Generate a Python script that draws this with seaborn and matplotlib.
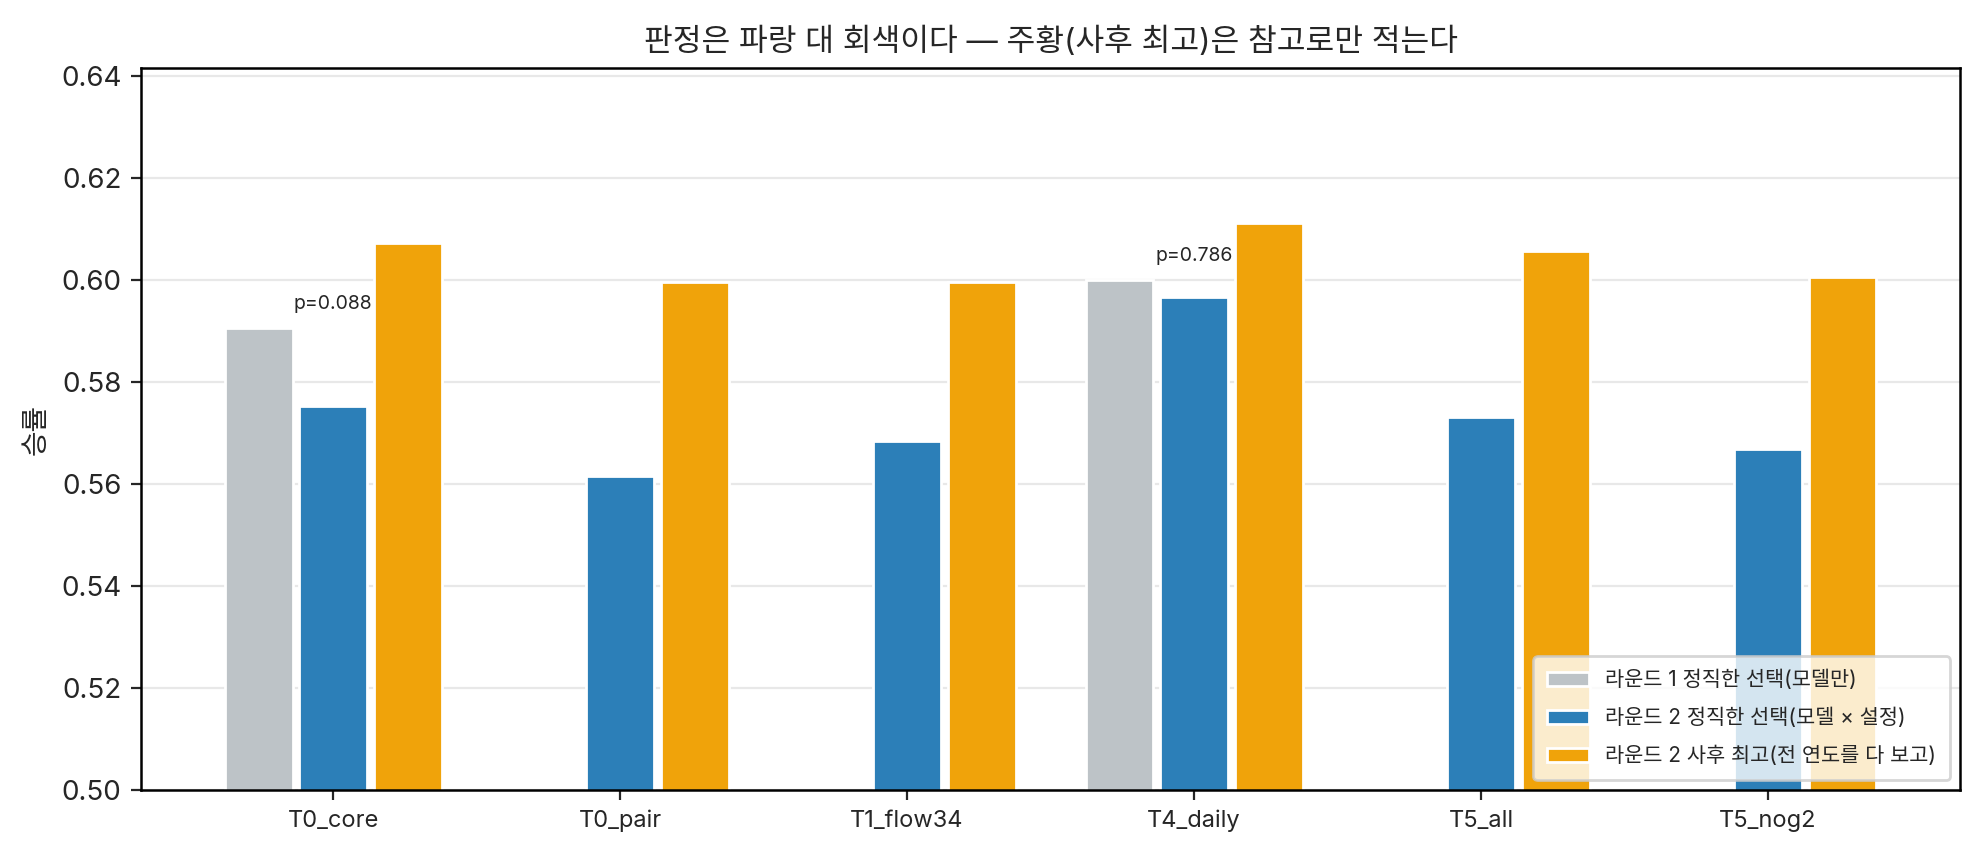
import matplotlib
matplotlib.use("Agg")
import matplotlib.pyplot as plt
import numpy as np
import pandas as pd
import seaborn as sns

# values
categories = ['T0_core', 'T0_pair', 'T1_flow34', 'T4_daily', 'T5_all', 'T5_nog2']
r1_honest = [0.5905, np.nan, np.nan, 0.5999, np.nan, np.nan]
r2_honest = [0.5752, 0.5616, 0.5685, 0.5966, 0.5731, 0.5669]
r2_best = [0.6073, 0.5996, 0.5996, 0.6112, 0.6057, 0.6005]
p_values = {'T0_core': 0.088, 'T4_daily': 0.786}

series_names = ['라운드 1 정직한 선택(모델만)',
                '라운드 2 정직한 선택(모델 × 설정)',
                '라운드 2 사후 최고(전 연도를 다 보고)']
colors = ['#bdc3c7', '#2c7fb8', '#f0a30a']

sns.set_style('white')
plt.rcParams['font.family'] = ['Inter', 'Noto Sans CJK KR', 'DejaVu Sans']

df = pd.DataFrame({'cat': categories * 3,
                   'series': np.repeat(series_names, len(categories)),
                   'val': r1_honest + r2_honest + r2_best})

fig, ax = plt.subplots(figsize=(9.9, 4.3), dpi=200)
sns.barplot(data=df, x='cat', y='val', hue='series', hue_order=series_names,
            palette=colors, saturation=1, width=0.78, gap=0.09, ax=ax)

# p-value labels above the round-2 honest bar
for i, c in enumerate(categories):
    if c in p_values:
        top = np.nanmax([r1_honest[i], r2_honest[i]])
        ax.text(i, top + 0.003, f'p={p_values[c]:.3f}', ha='center', va='bottom', fontsize=7)

ax.set_xlim(-0.67, len(categories) - 1 + 0.67)
ax.set_ylim(0.5, 0.6415)
ax.set_yticks(np.arange(0.50, 0.641, 0.02))
ax.yaxis.grid(True, color='#e8e8e8', linewidth=0.8)
ax.set_axisbelow(True)
for s in ax.spines.values():
    s.set_visible(True)
    s.set_color('black')
    s.set_linewidth(0.9)
ax.tick_params(axis='y', left=True, labelsize=10, length=3.5)
ax.tick_params(axis='x', bottom=True, labelsize=8.5, length=3.5)
ax.set_xlabel('')
ax.set_ylabel('승률', fontsize=10)
ax.set_title('판정은 파랑 대 회색이다 — 주황(사후 최고)은 참고로만 적는다', fontsize=11.25)
ax.legend(loc='lower right', fontsize=7.5, framealpha=0.8, title=None,
          labelspacing=0.85, borderpad=0.65)

plt.subplots_adjust(left=0.0712, right=0.99, top=0.921, bottom=0.081)
fig.savefig('out.png', dpi=200)
